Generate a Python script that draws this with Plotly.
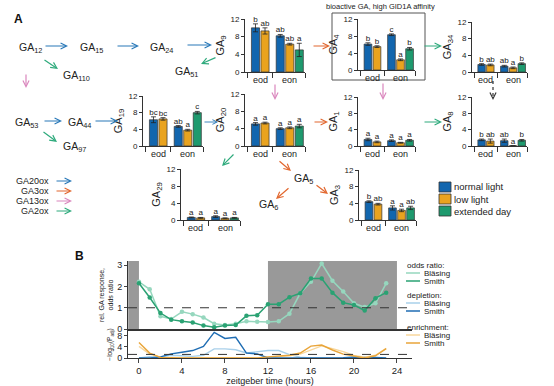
import plotly.graph_objects as go

W, H = 554, 386
FONT = "Liberation Sans, Arial, sans-serif"


def fx(p):
    return p / W


def fy(p):
    return 1 - p / H


# ---------------- data: panel A ----------------
conditions = ["normal light", "low light", "extended day"]
cond_colors = ["#1266AE", "#E9A31F", "#1E9A6E"]
bar_x = [0, 1, 2.6, 3.6, 4.6]
bar_cond = [0, 1, 0, 1, 2]
groups = ["eod", "eon"]
group_x = [0.5, 3.6]

ga19_vals = [6.3, 6.5, 4.7, 3.8, 8.0]
ga19_err = [0.7, 0.3, 0.2, 0.2, 0.3]
ga19_let = ["bc", "bc", "ab", "a", "c"]

ga9_vals = [10.0, 9.3, 8.2, 6.3, 5.0]
ga9_err = [0.9, 0.7, 0.3, 0.2, 1.5]
ga9_let = ["b", "ab", "ab", "ab", "a"]

ga4_vals = [6.1, 5.5, 8.3, 2.4, 5.0]
ga4_err = [0.3, 0.2, 0.2, 0.2, 0.3]
ga4_let = ["b", "b", "c", "a", "b"]

ga34_vals = [1.8, 1.7, 1.4, 1.0, 2.0]
ga34_err = [0.2, 0.2, 0.2, 0.2, 0.2]
ga34_let = ["b", "ab", "ab", "a", "b"]

ga20_vals = [5.1, 5.3, 4.0, 4.2, 4.6]
ga20_err = [0.3, 0.2, 0.2, 0.2, 0.4]
ga20_let = ["a", "a", "a", "a", "a"]

ga1_vals = [1.6, 1.0, 1.3, 0.8, 1.4]
ga1_err = [0.3, 0.2, 0.2, 0.1, 0.2]
ga1_let = ["a", "a", "a", "a", "a"]

ga8_vals = [1.5, 1.2, 1.3, 0.05, 1.4]
ga8_err = [0.2, 0.5, 0.4, 0.0, 0.2]
ga8_let = ["b", "ab", "ab", "a", "b"]

ga29_vals = [0.6, 0.5, 0.8, 0.4, 0.5]
ga29_err = [0.1, 0.1, 0.2, 0.1, 0.1]
ga29_let = ["a", "a", "a", "a", "a"]

ga3_vals = [4.4, 3.8, 2.9, 2.3, 2.9]
ga3_err = [0.2, 0.2, 0.5, 0.3, 0.4]
ga3_let = ["b", "ab", "a", "a", "ab"]

yticks_A = [0, 4, 8, 12]

# ---------------- data: panel B ----------------
zt = list(range(24))
odds_blasing = [2.22, 1.87, 0.60, 0.47, 0.81, 0.70, 0.54, 0.25, 0.19, 0.25, 0.36, 0.34,
                0.33, 0.36, 0.72, 1.68, 2.22, 3.08, 2.27, 1.76, 1.21, 1.03, 1.21, 2.15]
odds_smith = [2.15, 1.48, 0.75, 0.44, 0.36, 0.31, 0.16, 0.08, 0.16, 0.19, 0.62, 0.65,
              1.17, 1.17, 1.50, 1.68, 2.38, 2.38, 1.71, 1.24, 1.13, 0.87, 1.45, 1.71]
depl_blasing = [0, 0.5, 0.3, 1.0, 0.8, 0.6, 1.0, 3.3, 3.3, 3.0, 1.8, 2.3,
                2.7, 2.7, 1.2, 0.3, 0, 0, 0, 0, 0.4, 0.5, 0.2, 0]
depl_smith = [0, 0, 0.4, 1.5, 2.1, 2.7, 4.2, 9.3, 7.1, 7.5, 1.8, 1.5,
              0, 0, 0, 0, 0, 0, 0, 0.1, 0.3, 0, 0.2, 0]
enr_blasing = [4.2, 1.4, 0.3, 0, 0, 0, 0, 0, 0, 0, 0, 0,
               0.3, 0.5, 0.8, 1.4, 3.0, 4.4, 3.4, 2.3, 0.9, 0.3, 1.0, 3.5]
enr_smith = [5.6, 1.8, 0.2, 0, 0, 0, 0, 0, 0, 0, 0, 0,
             0.4, 0.8, 1.0, 1.8, 4.3, 4.7, 2.9, 1.4, 0.6, 0, 0.8, 3.4]
dark_periods = [(-1, 0), (12, 24)]
odds_ref = 1
p_ref = 1.3

fig = go.Figure()
layout = dict(
    template="none",
    width=W, height=H, margin=dict(l=0, r=0, t=0, b=0, autoexpand=False),
    paper_bgcolor="white", plot_bgcolor="white",
    font=dict(family=FONT, size=9, color="#222"),
    showlegend=False,
)
annotations = []
shapes = []


def label(text, x, y, size=9.5, xanchor="center", color="#222"):
    annotations.append(dict(x=fx(x), y=fy(y), xref="paper", yref="paper", text=text,
                            showarrow=False, xanchor=xanchor, yanchor="middle",
                            font=dict(size=size, color=color)))


# chart boxes: name, axis_x, right_x, y_top(12), y_zero
charts = [
    ("19", ga19_vals, ga19_err, ga19_let, 143, 203, 96, 146),
    ("9", ga9_vals, ga9_err, ga9_let, 245, 305, 19, 72),
    ("4", ga4_vals, ga4_err, ga4_let, 358, 415, 19, 70),
    ("34", ga34_vals, ga34_err, ga34_let, 472, 527, 22, 72),
    ("20", ga20_vals, ga20_err, ga20_let, 245, 305, 94, 146),
    ("1", ga1_vals, ga1_err, ga1_let, 358, 415, 97, 146),
    ("8", ga8_vals, ga8_err, ga8_let, 472, 527, 97, 146),
    ("29", ga29_vals, ga29_err, ga29_let, 181, 240, 169, 220),
    ("3", ga3_vals, ga3_err, ga3_let, 359, 416, 170, 220),
]

for i, (sub, vals, err, lets, ax0, ax1, ytop, yzero) in enumerate(charts, start=1):
    xa = "x" if i == 1 else f"x{i}"
    ya = "y" if i == 1 else f"y{i}"
    xk = "xaxis" if i == 1 else f"xaxis{i}"
    yk = "yaxis" if i == 1 else f"yaxis{i}"
    fig.add_trace(go.Bar(
        x=bar_x, y=vals, width=0.85,
        marker=dict(color=[cond_colors[c] for c in bar_cond],
                    line=dict(color="#333", width=0.7)),
        error_y=dict(type="data", array=err, color="#222", thickness=0.8, width=2.5),
        xaxis=xa, yaxis=ya, hoverinfo="skip",
    ))
    fig.add_trace(go.Scatter(
        x=bar_x, y=[v + e for v, e in zip(vals, err)], text=lets,
        mode="text", textposition="top center",
        textfont=dict(size=8, color="#222"), cliponaxis=False,
        xaxis=xa, yaxis=ya, hoverinfo="skip",
    ))
    layout[xk] = dict(
        domain=[fx(ax0), fx(ax1)], anchor=ya, range=[-1.1, 5.2], automargin=False,
        showline=True, linecolor="#333", linewidth=1, showgrid=False, zeroline=False,
        tickvals=[-0.8, 1.8, 5.2], ticktext=["", "", ""], ticks="outside",
        ticklen=5, tickcolor="#333", tickwidth=1,
    )
    layout[yk] = dict(
        domain=[fy(yzero), fy(ytop)], anchor=xa, range=[0, 12], automargin=False,
        showline=True, linecolor="#333", linewidth=1, showgrid=False, zeroline=False,
        tickvals=yticks_A, ticks="outside", ticklen=3, tickcolor="#333",
        tickfont=dict(size=8), title=dict(text=f"GA<sub>{sub}</sub>", font=dict(size=11), standoff=3),
    )
    for g, gx in zip(groups, group_x):
        annotations.append(dict(
            x=gx, y=-0.02, xref=xa, yref=f"{ya} domain", text=g, showarrow=False,
            xanchor="center", yanchor="top", font=dict(size=9)))

# ---- pathway text labels ----
ga_labels = [
    ("GA<sub>12</sub>", 30, 48), ("GA<sub>15</sub>", 91, 48), ("GA<sub>24</sub>", 161, 48),
    ("GA<sub>110</sub>", 76, 76), ("GA<sub>51</sub>", 186, 72),
    ("GA<sub>53</sub>", 26, 123), ("GA<sub>44</sub>", 79, 123), ("GA<sub>97</sub>", 74, 147),
    ("GA<sub>5</sub>", 303, 179), ("GA<sub>6</sub>", 268, 205),
]
for txt, x, y in ga_labels:
    label(txt, x, y, size=10.5)

enzyme_colors = {"GA20ox": "#2878B8", "GA3ox": "#E2672E", "GA13ox": "#DA86BD", "GA2ox": "#2EAA7C"}


def arrow(x0, y0, x1, y1, color, width=1.2):
    annotations.append(dict(
        x=fx(x1), y=fy(y1), xref="paper", yref="paper", axref="pixel", ayref="pixel",
        ax=x0 - x1, ay=y0 - y1, showarrow=True, arrowhead=5, arrowsize=1.0,
        arrowwidth=width, arrowcolor=color, text=""))


B = enzyme_colors["GA20ox"]
O = enzyme_colors["GA3ox"]
P = enzyme_colors["GA13ox"]
G = enzyme_colors["GA2ox"]
arrow(44, 46, 68, 46, B)
arrow(116, 46, 139, 46, B)
arrow(186, 45, 212, 45, B)
arrow(43, 59, 58, 69, G)
arrow(26, 73, 26, 88, P)
arrow(43, 121, 62, 121, B)
arrow(94, 121, 118, 121, B)
arrow(42, 131, 57, 142, G)
arrow(217, 57, 201, 64, G)
arrow(312, 46, 330, 46, O)
arrow(423, 46, 442, 46, G)
arrow(275, 83, 275, 100, P)
arrow(383, 82, 383, 100, P)
arrow(203, 122, 218, 122, B, 0.9)
arrow(313, 122, 328, 122, O)
arrow(423, 122, 442, 122, G)
arrow(235, 153, 222, 166, G)
arrow(278, 160, 291, 171, O)
arrow(290, 187, 276, 199, O)
arrow(315, 184, 328, 194, O)
# dotted arrow GA34 -> GA8
shapes.append(dict(type="line", xref="paper", yref="paper", x0=fx(493), x1=fx(493),
                   y0=fy(81), y1=fy(97), line=dict(color="#333", width=1.2, dash="dot")))
arrow(493, 96, 493, 100, "#333")

# enzyme legend
for k, (name, col) in enumerate(enzyme_colors.items()):
    y = 181 + k * 10
    label(name, 51, y, size=9, xanchor="right")
    arrow(55, y, 72, y, col)

# bioactive box
shapes.append(dict(type="rect", xref="paper", yref="paper", x0=fx(332), x1=fx(425),
                   y0=fy(80), y1=fy(13), line=dict(color="#555", width=1)))
label("bioactive GA, high GID1A affinity", 380, 7, size=7.5)

# bar legend
for k, (name, col) in enumerate(zip(conditions, cond_colors)):
    y = 187 + k * 12
    shapes.append(dict(type="rect", xref="paper", yref="paper", x0=fx(439), x1=fx(451),
                       y0=fy(y + 5), y1=fy(y - 5), fillcolor=col,
                       line=dict(color="#333", width=0.8)))
    label(name, 452, y, size=9.5, xanchor="left")

# panel letters
label("<b>A</b>", 18, 19, size=12, color="#111")
label("<b>B</b>", 79, 256, size=12, color="#111")

# ---------------- panel B ----------------
XU, YU, XL, YL = "x10", "y10", "x11", "y11"
col_ob, col_os = "#96D7BE", "#2AA273"
col_db, col_ds = "#A9D0EA", "#1F6DB3"
col_eb, col_es = "#F8D79C", "#E9A53A"

fig.add_trace(go.Scatter(x=zt, y=odds_blasing, mode="lines+markers",
                         line=dict(color=col_ob, width=1.5), marker=dict(size=4.5, color=col_ob),
                         xaxis=XU, yaxis=YU))
fig.add_trace(go.Scatter(x=zt, y=odds_smith, mode="lines+markers",
                         line=dict(color=col_os, width=1.5), marker=dict(size=4.5, color=col_os),
                         xaxis=XU, yaxis=YU))
for ys, c in [(depl_blasing, col_db), (enr_blasing, col_eb), (depl_smith, col_ds), (enr_smith, col_es)]:
    fig.add_trace(go.Scatter(x=zt, y=ys, mode="lines", line=dict(color=c, width=1.4),
                             xaxis=XL, yaxis=YL, cliponaxis=False))

for a, b in dark_periods:
    shapes.append(dict(type="rect", xref=XU, yref="y10 domain", x0=a, x1=b, y0=0, y1=1,
                       fillcolor="#999999", line=dict(width=0), layer="below"))
shapes.append(dict(type="line", xref="x10 domain", yref=YU, x0=0, x1=1, y0=odds_ref, y1=odds_ref,
                   line=dict(color="#333", width=1, dash="dash")))
shapes.append(dict(type="line", xref="x11 domain", yref=YL, x0=0, x1=1, y0=p_ref, y1=p_ref,
                   line=dict(color="#333", width=1, dash="dash")))

xr = [-1.02, 25.4]
layout["xaxis10"] = dict(domain=[fx(128), fx(412)], anchor=YU, range=xr, showline=True,
                         automargin=False,
                         linecolor="#333", linewidth=1.8, showgrid=False, zeroline=False,
                         showticklabels=False, ticks="")
layout["yaxis10"] = dict(domain=[fy(329), fy(261)], anchor=XU, range=[0, 3.2], showline=True,
                         automargin=False,
                         linecolor="#333", linewidth=1, showgrid=False, zeroline=False,
                         tickvals=[0, 1, 2, 3], ticks="outside", ticklen=3, tickfont=dict(size=9),
                         title=dict(text="rel. GA response,<br>odds ratio", font=dict(size=7),
                                    standoff=2))
layout["xaxis11"] = dict(domain=[fx(128), fx(412)], anchor=YL, range=xr, showline=True,
                         automargin=False,
                         linecolor="#333", linewidth=1, showgrid=False, zeroline=False,
                         tickvals=[0, 4, 8, 12, 16, 20, 24], ticks="outside", ticklen=4,
                         tickfont=dict(size=9.5),
                         title=dict(text="zeitgeber time (hours)", font=dict(size=9), standoff=0))
layout["yaxis11"] = dict(domain=[fy(358), fy(331)], anchor=XL, range=[0, 9.8], showline=True,
                         automargin=False,
                         linecolor="#333", linewidth=1, showgrid=False, zeroline=False,
                         tickvals=[0, 4, 8], ticks="outside", ticklen=3, tickfont=dict(size=9),
                         title=dict(text="\u2212log<sub>10</sub>(P<sub>adj</sub>)",
                                    font=dict(size=6.5), standoff=3))

# panel B legend
leg = [
    ("odds ratio:", None, 265), ("Bläsing", col_ob, 273), ("Smith", col_os, 281),
    ("depletion:", None, 295), ("Bläsing", col_db, 303), ("Smith", col_ds, 311),
    ("enrichment:", None, 327), ("Bläsing", col_eb, 335), ("Smith", col_es, 343),
]
for name, c, y in leg:
    if c is None:
        label(name, 405, y, size=8, xanchor="left")
    else:
        shapes.append(dict(type="line", xref="paper", yref="paper", x0=fx(406), x1=fx(420),
                           y0=fy(y), y1=fy(y), line=dict(color=c, width=1.5)))
        label(name, 422, y, size=8, xanchor="left")

layout["annotations"] = annotations
layout["shapes"] = shapes
fig.update_layout(**layout)
fig.write_html("out.html", config={"displayModeBar": False},
               post_script="document.body.style.margin='0px';")
